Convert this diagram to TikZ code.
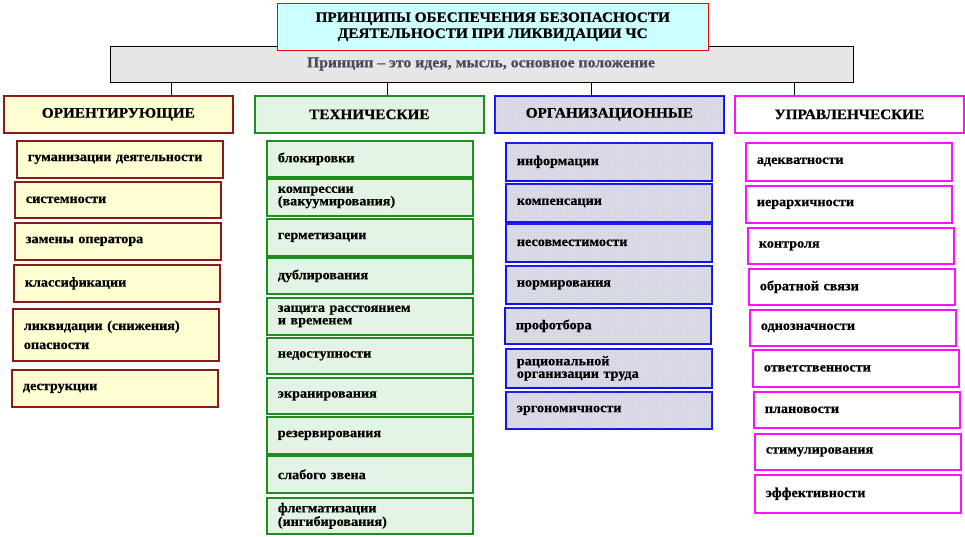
\documentclass[tikz,border=0pt]{standalone}
\usepackage{fontspec}
\setmainfont{Liberation Serif}[FakeStretch=1.05,FakeBold=0.6]
\usetikzlibrary{patterns}

\definecolor{titlefill}{HTML}{CCFFFF}
\definecolor{barfill}{HTML}{E6E6E6}
\definecolor{bartext}{HTML}{4A4A5C}
\definecolor{orired}{HTML}{8B1A1A}
\definecolor{orifill}{HTML}{FFFFD2}
\definecolor{tehgreen}{HTML}{1E8C1E}
\definecolor{tehfill}{HTML}{E4F4E4}
\definecolor{orgblue}{HTML}{1010F0}
\definecolor{orgfill}{HTML}{DCDCE4}
\definecolor{upmag}{HTML}{FF10FF}

\begin{document}
\begin{tikzpicture}[x=1pt,y=-1pt,
    hdr/.style={anchor=north west,minimum width=229pt,minimum height=37pt,inner sep=0pt,
        font=\bfseries\fontsize{14.5}{15}\selectfont,line width=1.7pt},
    item/.style={anchor=north west,text width=184pt,inner xsep=11pt,inner ysep=1pt,align=left,
        minimum height=37pt,font=\bfseries\fontsize{13.5}{12.5}\selectfont,line width=1.7pt},
    ori/.style={draw=orired,fill=orifill},
    teh/.style={draw=tehgreen,fill=tehfill},
    org/.style={draw=orgblue,fill=orgfill,postaction={pattern=dots,pattern color=orgblue!35}},
    upr/.style={draw=upmag,fill=white}]
\useasboundingbox (0,0) rectangle (965,536);

% principle bar and title
\node[anchor=north west,draw=black,fill=barfill,minimum width=743pt,minimum height=36pt,inner sep=0pt](bar)at(110, 46){};
\node[text=bartext,font=\bfseries\fontsize{15}{15}\selectfont](bartxt)at(481, 64){Принцип -- это идея, мысль, основное положение};
\node[anchor=north west,draw=red,fill=titlefill,minimum width=431pt,minimum height=47pt,inner sep=0pt,
    align=center,font=\bfseries\fontsize{14.5}{16}\selectfont](title)at(277, 3){ПРИНЦИПЫ ОБЕСПЕЧЕНИЯ БЕЗОПАСНОСТИ\\ДЕЯТЕЛЬНОСТИ ПРИ ЛИКВИДАЦИИ ЧС};

% group headers
\node[hdr,ori](h1)at(3, 95){ОРИЕНТИРУЮЩИЕ};
\node[hdr,teh](h2)at(254, 95){ТЕХНИЧЕСКИЕ};
\node[hdr,org](h3)at(494, 95){ОРГАНИЗАЦИОННЫЕ};
\node[hdr,upr](h4)at(734, 95){УПРАВЛЕНЧЕСКИЕ};

\coordinate(c1)at(171, 82);
\coordinate(c2)at(387, 82);
\coordinate(c3)at(591, 82);
\coordinate(c4)at(794, 82);
\draw[semithick] (c1) -- (c1 |- h1.north);
\draw[semithick] (c2) -- (c2 |- h2.north);
\draw[semithick] (c3) -- (c3 |- h3.north);
\draw[semithick] (c4) -- (c4 |- h4.north);

% orienting
\node[item,ori](o1)at(16, 140){гуманизации деятельности};
\node[item,ori,minimum height=36pt](o2)at(14, 181){системности};
\node[item,ori](o3)at(14, 222){замены оператора};
\node[item,ori](o4)at(13, 264){классификации};
\node[item,ori,minimum height=52pt,font=\bfseries\fontsize{13.5}{19}\selectfont](o5)at(12, 308){ликвидации (снижения)\\опасности};
\node[item,ori](o6)at(11, 369){деструкции};

% technical
\node[item,teh,minimum height=36pt](t1)at(266, 140){блокировки};
\node[item,teh](t2)at(266, 178){компрессии\\(вакуумирования)};
\node[item,teh](t3)at(266, 218){герметизации};
\node[item,teh,minimum height=36pt](t4)at(266, 257){дублирования};
\node[item,teh](t5)at(266, 297){защита расстоянием\\и временем};
\node[item,teh,minimum height=36pt](t6)at(266, 337){недоступности};
\node[item,teh,minimum height=36pt](t7)at(266, 377){экранирования};
\node[item,teh](t8)at(266, 416){резервирования};
\node[item,teh](t9)at(266, 455){слабого звена};
\node[item,teh,minimum height=36pt](t10)at(266, 497){флегматизации\\(ингибирования)};

% organisational
\node[item,org,minimum height=38pt](g1)at(505, 142){информации};
\node[item,org,minimum height=38pt](g2)at(505, 183){компенсации};
\node[item,org,minimum height=38pt](g3)at(505, 223){несовместимости};
\node[item,org,minimum height=38pt](g4)at(505, 265){нормирования};
\node[item,org,minimum height=36pt](g5)at(504, 307){профотбора};
\node[item,org,minimum height=39pt](g6)at(505, 348){рациональной\\организации труда};
\node[item,org](g7)at(505, 391){эргономичности};

% managerial
\node[item,upr,minimum height=38pt](u1)at(745, 142){адекватности};
\node[item,upr](u2)at(745, 185){иерархичности};
\node[item,upr,minimum height=36pt](u3)at(747, 227){контроля};
\node[item,upr,minimum height=36pt](u4)at(748, 268){обратной связи};
\node[item,upr,minimum height=36pt](u5)at(749, 309){однозначности};
\node[item,upr](u6)at(752, 349){ответственности};
\node[item,upr,minimum height=36pt](u7)at(753, 391){плановости};
\node[item,upr,minimum height=36pt](u8)at(754, 433){стимулирования};
\node[item,upr,minimum height=38pt](u9)at(754, 474){эффективности};
\end{tikzpicture}
\end{document}
